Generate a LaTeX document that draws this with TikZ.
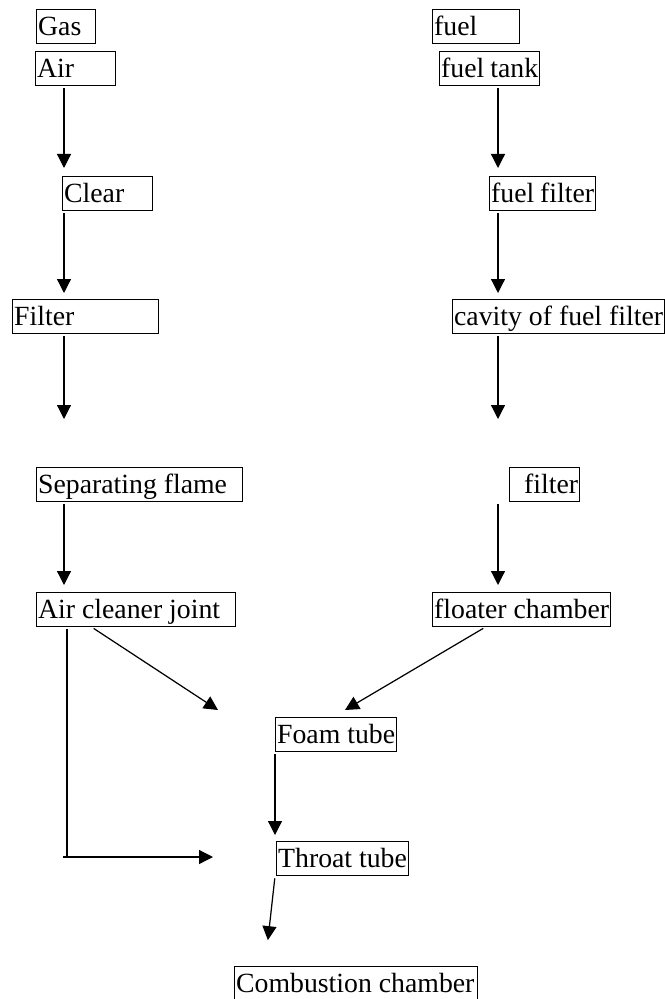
\documentclass[tikz,border=0pt]{standalone}
\usepackage{fontspec}
\setmainfont{Liberation Serif}
\usetikzlibrary{arrows.meta,positioning}
\tikzset{
  keret/.style={draw,line width=0.75pt,anchor=north west,inner xsep=0.03cm,
    inner ysep=0pt,text height=0.52cm,text depth=0.16cm,
    execute at begin node={\hbox to #1\bgroup},execute at end node={\hfil\egroup}},
  folyas/.style={line width=0.7pt,-{Triangle[length=0.28cm,width=0.28cm]}},
  vonal/.style={line width=0.7pt},
}

\begin{document}
\begin{tikzpicture}[font=\fontsize{15.8}{19}\selectfont]
  \useasboundingbox (0,0) rectangle (13.28,-19.98);
  % left column: the air path
  \node[keret=1.12cm] (gaz) at (0.72,-0.18) {Gas};
  \node[keret=1.54cm] (levego) at (0.70,-1.02) {Air};
  \node[keret=1.74cm] (tiszta) at (1.24,-3.52) {Clear};
  \node[keret=2.86cm] (szuro) at (0.24,-5.98) {Filter};
  \node[keret=4.06cm] (lang) at (0.72,-9.34) {Separating flame};
  \node[keret=3.92cm] (csatl) at (0.72,-11.84) {Air cleaner joint};
  % right column: the fuel path
  \node[keret=1.68cm] (uzem) at (8.64,-0.18) {fuel};
  \node[keret=1.94cm] (tartaly) at (8.78,-1.02) {fuel tank};
  \node[keret=2.06cm] (uszuro) at (9.78,-3.52) {fuel filter};
  \node[keret=4.18cm] (ureg) at (9.04,-5.98) {cavity of fuel filter};
  \node[keret=1.34cm] (szita) at (10.18,-9.34) {\hfill filter};
  \node[keret=3.50cm] (uszo) at (8.64,-11.84) {floater chamber};
  % where the two meet
  \node[keret=2.36cm] (hab) at (5.50,-14.34) {Foam tube};
  \node[keret=2.58cm] (torok) at (5.52,-16.82) {Throat tube};
  \node[keret=4.80cm] (egeto) at (4.68,-19.32) {Combustion chamber};

  \coordinate (bal) at (1.28,0);
  \coordinate (jobb) at (9.96,0);
  \coordinate (lvege) at (1.28,-8.38);
  \coordinate (jvege) at (9.96,-8.38);
  \coordinate (ferde1) at (4.36,-14.20);
  \coordinate (ferde2) at (6.90,-14.20);
  \coordinate (kanyar) at (1.34,-17.14);
  \coordinate (oldal) at (4.26,-17.14);

  \draw[folyas,shorten <=0.04cm,shorten >=0.16cm] (levego.south -| bal) -- (tiszta.north -| bal);
  \draw[folyas,shorten <=0.04cm,shorten >=0.12cm] (tiszta.south -| bal) -- (szuro.north -| bal);
  \draw[folyas,shorten <=0.04cm] (szuro.south -| bal) -- (lvege);
  \draw[folyas,shorten <=0.04cm,shorten >=0.14cm] (lang.south -| bal) -- (csatl.north -| bal);

  \draw[folyas,shorten <=0.04cm,shorten >=0.16cm] (tartaly.south -| jobb) -- (uszuro.north -| jobb);
  \draw[folyas,shorten <=0.04cm,shorten >=0.12cm] (uszuro.south -| jobb) -- (ureg.north -| jobb);
  \draw[folyas,shorten <=0.04cm] (ureg.south -| jobb) -- (jvege);
  \draw[folyas,shorten <=0.04cm,shorten >=0.14cm] (szita.south -| jobb) -- (uszo.north -| jobb);

  \draw[folyas,shorten <=0.04cm] ([xshift=1.12cm]csatl.south west) -- (ferde1);
  \draw[folyas,shorten <=0.04cm] ([xshift=1.06cm]uszo.south west) -- (ferde2);
  \draw[vonal,shorten <=0.04cm] ([xshift=0.62cm]csatl.south west) -- (kanyar);
  \draw[folyas] ([xshift=-0.08cm]kanyar) -- (oldal);
  \draw[folyas,shorten <=0.04cm,shorten >=0.12cm] (hab.south west) -- (hab.south west |- torok.north);
  \draw[folyas,shorten <=0.04cm,shorten >=0.52cm] ([xshift=-0.02cm]torok.south west) -- ([xshift=0.62cm]egeto.north west);
\end{tikzpicture}
\end{document}
